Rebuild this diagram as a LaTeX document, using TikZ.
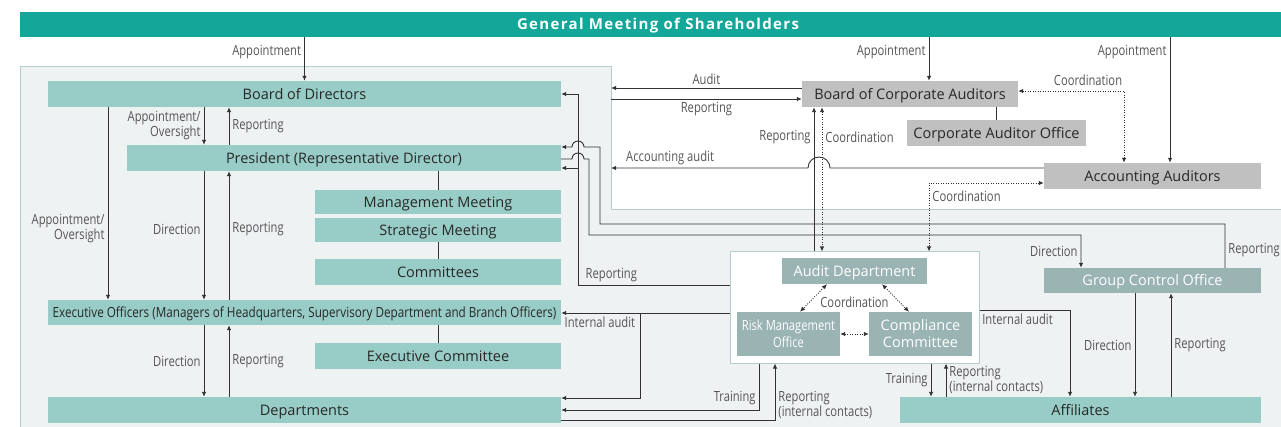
\documentclass[tikz,border=0pt]{standalone}
\usepackage{fontspec}
\setmainfont{Open Sans}
\newfontfamily\narrowfont{Open Sans}[FakeStretch=0.8]
\newfontfamily\execfont{Open Sans}[FakeStretch=0.835]
\newfontfamily\bannerfont{Open Sans}[LetterSpace=9]
\usetikzlibrary{arrows.meta, positioning, calc}

\definecolor{gmteal}{RGB}{19,167,154}
\definecolor{boxteal}{RGB}{152,204,198}
\definecolor{boxgrey}{RGB}{192,192,192}
\definecolor{boxslate}{RGB}{154,179,179}
\definecolor{panelbg}{RGB}{238,242,243}
\definecolor{panelline}{RGB}{180,205,203}
\definecolor{wirecol}{RGB}{50,50,50}
\definecolor{lbltext}{RGB}{85,85,85}
\definecolor{boxtext}{RGB}{40,40,40}

\tikzset{
	box/.style = {inner sep=0pt, align=center, font=\fontsize{14.5}{17}\selectfont},
	oneline/.style = {text height=10.4pt, text depth=0pt},
	tealbox/.style = {box, oneline, fill=boxteal, text=boxtext},
	greybox/.style = {box, oneline, fill=boxgrey, text=boxtext},
	slatebox/.style = {box, fill=boxslate, text=white},
	banner/.style = {box, oneline, fill=gmteal, text=white, font=\bannerfont\bfseries\fontsize{15}{17}\selectfont},
	lbl/.style = {font=\narrowfont\fontsize{14}{15}\selectfont, text=lbltext, inner sep=3pt, align=center},
	wire/.style = {draw=wirecol, line width=0.9pt},
	arr/.style = {wire, -{Latex[length=5pt,width=4.5pt]}},
	dotarr/.style = {wire, dash pattern=on 1pt off 1.5pt,
		{Latex[length=5pt,width=4.5pt]}-{Latex[length=5pt,width=4.5pt]}}
}

\begin{document}
\begin{tikzpicture}[x=1pt, y=-1pt]
	\useasboundingbox (0,0) rectangle (1281,427);
	
	% background panels
	\fill[panelbg] (20,67) -- (611,67) -- (611,210) -- (1295,210) -- (1295,440) -- (20,440) -- cycle;
	\draw[panelline, line width=1pt] (20,440) -- (20,67) -- (611,67) -- (611,210) -- (1295,210);
	
	\node[banner, minimum width=1276pt, minimum height=25pt] (gm) at (658,24.5) {General Meeting of Shareholders};
	
	% executive side
	\node[tealbox, minimum width=513pt, minimum height=26pt] (bod) at (304.5,94) {Board of Directors};
	\node[tealbox, minimum width=434pt, minimum height=26pt] (pres) at (344,158) {President (Representative Director)};
	\node[tealbox, minimum width=246pt, minimum height=24pt] (mgmt) at (438,202) {Management Meeting};
	\node[tealbox, minimum width=246pt, minimum height=24pt] (strat) at (438,230) {Strategic Meeting};
	\node[tealbox, minimum width=246pt, minimum height=26pt] (comm) at (438,272) {Committees};
	\node[tealbox, minimum width=513pt, minimum height=25pt, font=\execfont\fontsize{14}{16}\selectfont] (exec) at (304.5,312.5) {Executive Officers (Managers of Headquarters, Supervisory Department and Branch Officers)};
	\node[tealbox, minimum width=246pt, minimum height=26pt] (excom) at (438,356) {Executive Committee};
	\node[tealbox, minimum width=513pt, minimum height=26pt] (dept) at (304.5,410) {Departments};
	
	% auditors
	\node[greybox, minimum width=216pt, minimum height=26pt] (bca) at (910,94) {Board of Corporate Auditors};
	\node[greybox, minimum width=179pt, minimum height=26pt] (cao) at (996.5,133) {Corporate Auditor Office};
	\node[greybox, minimum width=217pt, minimum height=26pt] (acc) at (1152.5,176) {Accounting Auditors};
	
	% audit / risk / compliance
	\node[draw=panelline, fill=white, line width=1pt, minimum width=249pt, minimum height=111pt] (adbox) at (854.5,307.5) {};
	\node[slatebox, oneline, minimum width=145pt, minimum height=26pt] (adept) at (854.5,271) {Audit Department};
	\node[slatebox, minimum width=103pt, minimum height=44pt, font=\narrowfont\fontsize{14}{17}\selectfont] (rmo) at (788.5,334) {Risk Management\\Office};
	\node[slatebox, minimum width=103pt, minimum height=44pt] (cmp) at (920.5,334) {Compliance\\Committee};
	\node[slatebox, oneline, minimum width=217pt, minimum height=25pt] (gco) at (1152.5,280.5) {Group Control Office};
	\node[tealbox, minimum width=361pt, minimum height=26pt] (aff) at (1080.5,410) {Affiliates};
	
	% rails
	\coordinate (xa) at (108,0);
	\coordinate (xb) at (204,0);
	\coordinate (xc) at (229,0);
	\coordinate (pR) at (611,0);
	\coordinate (xr) at (578,0);
	\coordinate (xg1) at (600,0);
	\coordinate (yg1) at (0,224);
	\coordinate (xg2) at (589,0);
	\coordinate (yg2) at (0,235);
	\coordinate (xia) at (640,0);
	\coordinate (xtr) at (759,0);
	\coordinate (xrc) at (775,0);
	\coordinate (xrep) at (814,0);
	\coordinate (xcoo) at (822,0);
	\coordinate (xbca) at (929,0);
	\coordinate (xco2) at (929,0);
	\coordinate (xtr2) at (931,0);
	\coordinate (xrc2) at (946,0);
	\coordinate (xia2) at (1070,0);
	\coordinate (xco) at (1124,0);
	\coordinate (xd) at (1135,0);
	\coordinate (xacc) at (1170,0);
	\coordinate (xe) at (1171,0);
	\coordinate (hop1) at (819,168);
	\coordinate (hop2) at (578,147);
	\coordinate (hop3) at (578,159);
	
	% appointments
	\draw[arr] (gm.south -| bod.north) -- node[lbl, left, pos=0.34]{Appointment} (bod.north);
	\draw[arr] (gm.south -| xbca) -- node[lbl, left, pos=0.34]{Appointment} (bca.north -| xbca);
	\draw[arr] (gm.south -| xacc) -- node[lbl, left, pos=0.12]{Appointment} (acc.north -| xacc);
	
	% left column
	\draw[arr] (bod.south -| xa) -- node[lbl, left, align=right, pos=0.63]{Appointment/\\Oversight} (exec.north -| xa);
	\draw[arr] (bod.south -| xb) -- node[lbl, left, align=right]{Appointment/\\Oversight} (pres.north -| xb);
	\draw[arr] (pres.north -| xc) -- node[lbl, right]{Reporting} (bod.south -| xc);
	\draw[arr] (pres.south -| xb) -- node[lbl, left, pos=0.45]{Direction} (exec.north -| xb);
	\draw[arr] (exec.north -| xc) -- node[lbl, right, pos=0.55]{Reporting} (pres.south -| xc);
	\draw[arr] (exec.south -| xb) -- node[lbl, left]{Direction} (dept.north -| xb);
	\draw[arr] (dept.north -| xc) -- node[lbl, right]{Reporting} (exec.south -| xc);
	\draw[wire] (pres.south -| mgmt.north) -- (mgmt.north);
	\draw[wire] (strat) -- (comm);
	\draw[wire] (exec.south -| excom.north) -- (excom.north);
	
	% auditors and the left panel
	\draw[arr] ([yshift=6pt]bca.west) -- node[lbl, above]{Audit} ([yshift=6pt]bca.west -| pR);
	\draw[arr] ([yshift=-5pt]bca.west -| pR) -- node[lbl, below]{Reporting} ([yshift=-5pt]bca.west);
	\draw[arr] ([yshift=8pt]acc.west) -- ([xshift=11pt]hop1) arc[start angle=0, end angle=180, radius=11pt]
		-- node[lbl, above, pos=0.7]{Accounting audit} (hop1 -| pR);
	\draw[dotarr] ([yshift=3pt]bca.east) -| node[lbl, above, pos=0.33, yshift=2pt]{Coordination} (acc.north -| xco);
	\draw[wire] (cao.north |- bca.south) -- (cao.north);
	\draw[dotarr] ([yshift=-7pt]acc.west) -| node[lbl, right, pos=0.6]{Coordination} (adbox.north -| xco2);
	\draw[arr] (adbox.north -| xrep) -- node[lbl, left, pos=0.79]{Reporting} (bca.south -| xrep);
	\draw[dotarr] (bca.south -| xcoo) -- node[lbl, right, pos=0.21]{Coordination} (adbox.north -| xcoo);
	
	% audit department to the top
	\draw[arr] ([yshift=22.5pt]adbox.west) -| node[lbl, above, pos=0.39]{Reporting} (bod.east -| xr) -- (bod.east);
	\draw[arr] ([yshift=-10pt]pres.east -| xr) -- ([yshift=-10pt]pres.east);
	
	% group control office
	\draw[arr] ([xshift=72.5pt]gco.north) |- node[lbl, right, pos=0.2]{Reporting} (yg1 -| xg1) -- (hop2 -| xg1)
		-- ([xshift=6pt]hop2) arc[start angle=0, end angle=180, radius=6pt] -- (hop2 -| pres.east);
	\draw[arr] (hop3 -| pres.east) -- ([xshift=-6pt]hop3) arc[start angle=180, end angle=0, radius=6pt]
		-- (hop3 -| xg2) -- (yg2 -| xg2) -| node[lbl, left, pos=0.75]{Direction} ([xshift=-71.5pt]gco.north);
	\draw[arr] (gco.south -| xd) -- node[lbl, left]{Direction} (aff.north -| xd);
	\draw[arr] (aff.north -| xe) -- node[lbl, right]{Reporting} (gco.south -| xe);
	
	% internal audit, training
	\draw[arr] ([yshift=-5.5pt]adbox.west) -- node[lbl, below, pos=0.77]{Internal audit} ([yshift=-5.5pt]adbox.west -| exec.east);
	\draw[arr] ([yshift=-5.5pt]adbox.west -| xia) |- ([yshift=12pt]dept.east);
	\draw[arr] (adbox.south -| xtr) |- node[lbl, left, pos=0.37]{Training} (dept.east);
	\draw[arr] ([yshift=-10pt]dept.east) -| node[lbl, right, pos=0.63, align=left]{Reporting\\(internal contacts)} (adbox.south -| xrc);
	\draw[arr] ([yshift=-2.5pt]adbox.east) -| node[lbl, below, pos=0.21]{Internal audit} (aff.north -| xia2);
	\draw[arr] (adbox.south -| xtr2) -- node[lbl, left]{Training} (aff.north -| xtr2);
	\draw[arr] (aff.north -| xrc2) -- node[lbl, right, align=left]{Reporting\\(internal contacts)} (adbox.south -| xrc2);
	
	% coordination inside the box
	\draw[dotarr] ([xshift=-27.5pt]adept.south) -- ([xshift=11.5pt]rmo.north);
	\draw[dotarr] ([xshift=27.5pt]adept.south) -- ([xshift=-11.5pt]cmp.north);
	\draw[dotarr] (rmo) -- (cmp);
	\node[lbl] (coordlbl) at ($(adept.south)+(0,18)$) {Coordination};
\end{tikzpicture}
\end{document}
